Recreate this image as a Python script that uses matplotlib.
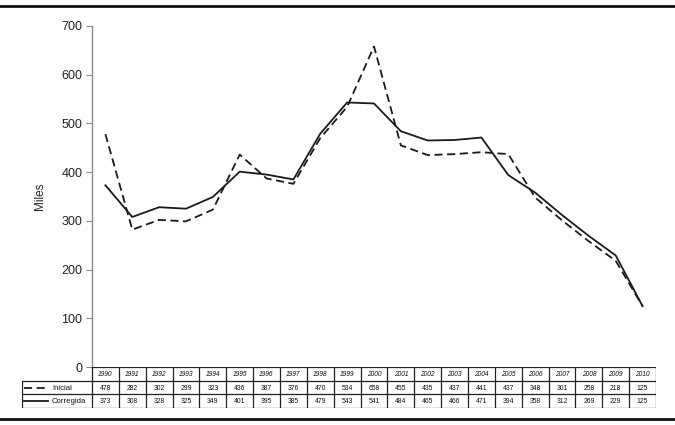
import numpy as np
import matplotlib
matplotlib.use('Agg')
import matplotlib.pyplot as plt

plt.rcParams['font.family'] = ['Liberation Sans', 'DejaVu Sans']

years = [str(y) for y in range(1990, 2011)]
inicial = [478, 282, 302, 299, 323, 436, 387, 376, 470, 534, 658,
           455, 435, 437, 441, 437, 348, 301, 258, 218, 125]
corregida = [373, 308, 328, 325, 349, 401, 395, 385, 479, 543, 541,
             484, 465, 466, 471, 394, 358, 312, 269, 229, 125]
series_names = ['Inicial', 'Corregida']
yticks = [0, 100, 200, 300, 400, 500, 600, 700]

W, H = 675, 425
fig = plt.figure(figsize=(W / 100, H / 100), dpi=100)

# layout in pixels
ax_l, ax_r, ax_t, ax_b = 92, 656, 26, 367
tab_l, tab_b = 22, 408
col_px = (ax_r - ax_l) / len(years)

ax = fig.add_axes([ax_l / W, 1 - ax_b / H, (ax_r - ax_l) / W, (ax_b - ax_t) / H])
x = np.arange(len(years))
line_col = '#1a1a1a'
ax.plot(x, inicial, color=line_col, lw=1.3, dashes=(4.5, 2.5))
ax.plot(x, corregida, color=line_col, lw=1.3)
ax.set_xlim(-0.5, len(years) - 0.5)
ax.set_ylim(0, 700)
ax.set_yticks(yticks)
ax.set_yticklabels([str(v) for v in yticks], fontsize=9)
ax.set_xticks([])
for s in ['top', 'right', 'bottom']:
    ax.spines[s].set_visible(False)
ax.spines['left'].set_color('#888888')
ax.spines['left'].set_linewidth(1.0)
ax.tick_params(axis='y', colors='#888888', length=4, width=0.8, labelcolor='#222222', pad=3)
ax.set_ylabel('Miles', fontsize=8.5, color='#222222', labelpad=11)

# table below the plot
tab = fig.add_axes([tab_l / W, 1 - tab_b / H, (ax_r - tab_l) / W, (tab_b - ax_b) / H])
x0 = -0.5 - (ax_l - tab_l) / col_px
tab.set_xlim(x0, len(years) - 0.5)
tab.set_ylim(3, 0)
tab.axis('off')

def px2x(p):
    return x0 + (p - tab_l) / col_px

bc = '#222222'
blw = 0.9
tab.plot([-0.5, len(years) - 0.5], [0, 0], color=bc, lw=blw)
for r in [1, 2, 3]:
    tab.plot([x0, len(years) - 0.5], [r, r], color=bc, lw=blw)
for i in range(len(years) + 1):
    tab.plot([i - 0.5, i - 0.5], [0, 3], color=bc, lw=blw)
tab.plot([x0, x0], [1, 3], color=bc, lw=blw)

for i, yr in enumerate(years):
    tab.text(i, 0.55, yr, ha='center', va='center', fontsize=4.8, style='italic', color='#111111')
for r, vals in enumerate([inicial, corregida], start=1):
    for i, v in enumerate(vals):
        tab.text(i, r + 0.55, str(v), ha='center', va='center', fontsize=4.9, color='#111111')

# legend keys in the table
tab.plot([px2x(24), px2x(46)], [1.5, 1.5], color=line_col, lw=1.3, dashes=(4.5, 2.5))
tab.plot([px2x(24), px2x(48)], [2.5, 2.5], color=line_col, lw=1.3)
for r, name in enumerate(series_names, start=1):
    tab.text(px2x(52), r + 0.55, name, ha='left', va='center', fontsize=5.6, color='#111111')

# top and bottom rules
fig.add_artist(plt.Line2D([0, 1], [1 - 6 / H, 1 - 6 / H], transform=fig.transFigure,
                          color='#111111', lw=2))
fig.add_artist(plt.Line2D([0, 1], [1 - 419 / H, 1 - 419 / H], transform=fig.transFigure,
                          color='#111111', lw=2))

fig.savefig('out.png', dpi=100)
